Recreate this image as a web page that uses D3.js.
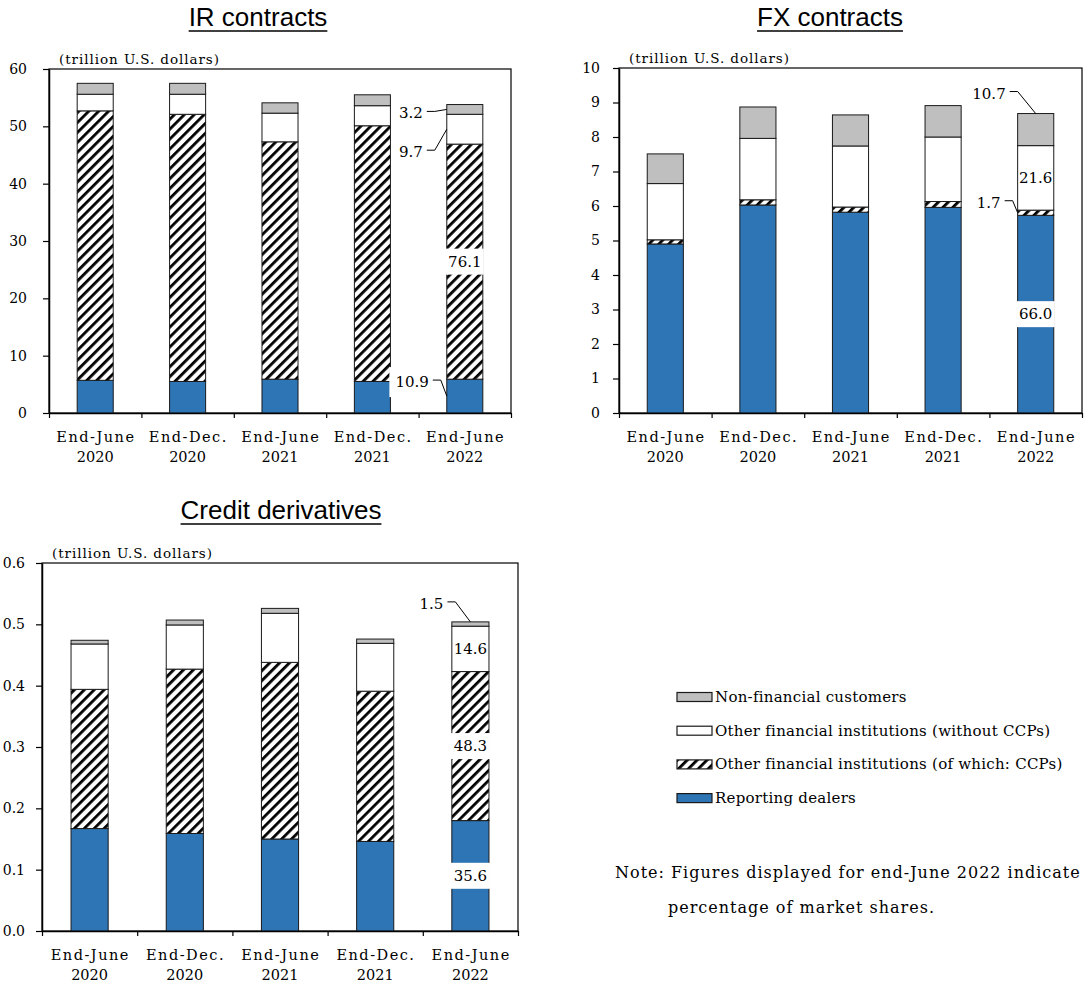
<!DOCTYPE html>
<html>
<head>
<meta charset="utf-8">
<script src="https://cdn.jsdelivr.net/npm/d3@7"></script>
<style>
  html, body { margin: 0; padding: 0; background: #fff; }
  svg { display: block; }
</style>
</head>
<body>
<script>
// ---- Categories ----
const periodLabels = ["End-June", "End-Dec.", "End-June", "End-Dec.", "End-June"];
const yearLabels = ["2020", "2020", "2021", "2021", "2022"];

// ---- Series (bottom to top) ----
const seriesKeys = ["dealers", "ccps", "otherFI", "nonFin"];
const legendLabels = [
  "Non-financial customers",
  "Other financial institutions (without CCPs)",
  "Other financial institutions (of which: CCPs)",
  "Reporting dealers"
];
const legendKeys = ["nonFin", "otherFI", "ccps", "dealers"];

// ---- IR contracts (trillion U.S. dollars) ----
const irDealers = [5.7, 5.5, 5.9, 5.5, 5.9];
const irCCPs    = [47.0, 46.6, 41.4, 44.6, 41.0];
const irOtherFI = [2.9, 3.5, 5.0, 3.5, 5.2];
const irNonFin  = [1.9, 1.9, 1.8, 1.9, 1.7];
const irShares  = [10.9, 76.1, 9.7, 3.2];   // end-June 2022 market shares, %
const irTicks   = [0, 10, 20, 30, 40, 50, 60];

// ---- FX contracts (trillion U.S. dollars) ----
const fxDealers = [4.90, 6.03, 5.82, 5.96, 5.73];
const fxCCPs    = [0.12, 0.15, 0.15, 0.17, 0.15];
const fxOtherFI = [1.63, 1.78, 1.77, 1.87, 1.87];
const fxNonFin  = [0.86, 0.91, 0.90, 0.91, 0.93];
const fxShares  = [66.0, 1.7, 21.6, 10.7];
const fxTicks   = [0, 1, 2, 3, 4, 5, 6, 7, 8, 9, 10];

// ---- Credit derivatives (trillion U.S. dollars) ----
const cdDealers = [0.167, 0.159, 0.150, 0.146, 0.180];
const cdCCPs    = [0.227, 0.268, 0.288, 0.245, 0.243];
const cdOtherFI = [0.074, 0.072, 0.080, 0.078, 0.074];
const cdNonFin  = [0.006, 0.008, 0.008, 0.007, 0.007];
const cdShares  = [35.6, 48.3, 14.6, 1.5];
const cdTicks   = [0, 0.1, 0.2, 0.3, 0.4, 0.5, 0.6];

// ---- Styling ----
const BLUE = "#2E75B6";
const GRAY = "#BFBFBF";
const SERIF = "'DejaVu Serif', 'Liberation Serif', serif";
const SANS = "'Liberation Sans', Arial, sans-serif";

const svg = d3.select("body").append("svg")
  .attr("width", 1085).attr("height", 985);

const defs = svg.append("defs");
const hatch = defs.append("pattern")
  .attr("id", "hatch")
  .attr("patternUnits", "userSpaceOnUse")
  .attr("width", 7).attr("height", 7)
  .attr("patternTransform", "rotate(45)");
hatch.append("rect").attr("width", 7).attr("height", 7).attr("fill", "#fff");
hatch.append("rect").attr("width", 2.8).attr("height", 7).attr("fill", "#000");

const fills = { dealers: BLUE, ccps: "url(#hatch)", otherFI: "#fff", nonFin: GRAY };

function drawPanel(p) {
  const n = periodLabels.length;
  const g = svg.append("g");

  const x = d3.scaleBand().domain(d3.range(n))
    .range([p.left, p.right]).paddingInner(0.61).paddingOuter(0.305);
  const y = d3.scaleLinear().domain([0, p.max]).range([p.bottom, p.top]);

  const rows = d3.range(n).map(i => {
    const r = {};
    seriesKeys.forEach((k, s) => { r[k] = p.series[s][i]; });
    return r;
  });
  const stacked = d3.stack().keys(seriesKeys)(rows);

  // Title with underline
  const title = g.append("text")
    .attr("x", p.titleX).attr("y", p.titleY)
    .attr("text-anchor", "middle")
    .attr("font-family", SANS).attr("font-size", 26)
    .attr("fill", "#000")
    .text(p.title);
  const tb = title.node().getBBox();
  g.append("line")
    .attr("x1", tb.x).attr("x2", tb.x + tb.width)
    .attr("y1", p.titleY + 5).attr("y2", p.titleY + 5)
    .attr("stroke", "#000").attr("stroke-width", 1.6);

  // Unit label
  g.append("text")
    .attr("x", p.left + 10).attr("y", p.top - 5)
    .attr("font-family", SERIF).attr("font-size", 13.5)
    .attr("textLength", 160).attr("lengthAdjust", "spacing")
    .attr("fill", "#000")
    .text("(trillion  U.S. dollars)");

  // Plot frame
  g.append("rect")
    .attr("x", p.left).attr("y", p.top)
    .attr("width", p.right - p.left).attr("height", p.bottom - p.top)
    .attr("fill", "none").attr("stroke", "#000").attr("stroke-width", 1.2);

  // Stacked bars
  g.selectAll("g.layer").data(stacked).join("g")
    .attr("class", "layer")
    .attr("fill", d => fills[d.key])
    .selectAll("rect").data(d => d).join("rect")
    .attr("x", (d, i) => x(i))
    .attr("y", d => y(d[1]))
    .attr("width", x.bandwidth())
    .attr("height", d => y(d[0]) - y(d[1]))
    .attr("stroke", "#1a1a1a").attr("stroke-width", 1);

  // Y axis
  const ya = g.append("g")
    .attr("transform", `translate(${p.left},0)`)
    .call(d3.axisLeft(y).tickValues(p.ticks).tickFormat(p.fmt)
      .tickSizeInner(6).tickSizeOuter(0).tickPadding(p.pad));
  ya.attr("font-family", SERIF).attr("font-size", 14);
  ya.selectAll("text").attr("fill", "#000");
  ya.selectAll("line").attr("stroke", "#000").attr("stroke-width", 1.2);
  ya.select(".domain").attr("stroke", "#000").attr("stroke-width", 1.5);

  // X axis with ticks at category boundaries
  const xb = d3.scaleLinear().domain([0, n]).range([p.left, p.right]);
  const xa = g.append("g")
    .attr("transform", `translate(0,${p.bottom})`)
    .call(d3.axisBottom(xb).tickValues(d3.range(n + 1)).tickFormat("")
      .tickSizeInner(5).tickSizeOuter(0));
  xa.selectAll("line").attr("stroke", "#000").attr("stroke-width", 1.2);
  xa.select(".domain").attr("stroke", "#000").attr("stroke-width", 1.5);

  // Category labels (two lines)
  const lab = g.append("g")
    .attr("font-family", SERIF).attr("font-size", 14.5)
    .attr("text-anchor", "middle").attr("fill", "#000");
  d3.range(n).forEach(i => {
    const cx = x(i) + x.bandwidth() / 2;
    lab.append("text").attr("x", cx + 0.75).attr("y", p.bottom + 29)
      .attr("letter-spacing", 1.5).text(periodLabels[i]);
    lab.append("text").attr("x", cx).attr("y", p.bottom + 49).text(yearLabels[i]);
  });

  // Market share labels on the last bar
  const last = n - 1;
  const bx = x(last), bw = x.bandwidth();
  const ann = g.append("g").attr("font-family", SERIF).attr("font-size", 15).attr("fill", "#000");
  p.notes.forEach(nt => {
    const s = seriesKeys.indexOf(nt.key);
    const seg = stacked[s][last];
    const label = d3.format(".1f")(p.shares[s]);
    if (nt.kind === "inside") {
      const cy = y((seg[0] + seg[1]) / 2);
      if (nt.box) {
        ann.append("rect")
          .attr("x", bx - 1).attr("y", cy - 13)
          .attr("width", bw + 2).attr("height", 26)
          .attr("fill", "#fff");
      }
      ann.append("text").attr("x", bx + bw / 2).attr("y", cy)
        .attr("text-anchor", "middle").attr("dominant-baseline", "central")
        .text(label);
    } else {
      const ax = nt.anchor === "top" ? bx + bw / 2 : bx;
      const ay = nt.anchor === "top" ? y(seg[1]) : y((seg[0] + seg[1]) / 2);
      const tx = ax + nt.dx, ty = ay + nt.dy;
      const t = ann.append("text").attr("x", tx).attr("y", ty)
        .attr("text-anchor", "end").attr("dominant-baseline", "central")
        .text(label);
      if (nt.box) {
        const b = t.node().getBBox();
        ann.insert("rect", "text")
          .attr("x", b.x - 6).attr("y", b.y - 6)
          .attr("width", b.width + 20).attr("height", b.height + 12)
          .attr("fill", "#fff");
      }
      ann.append("path")
        .attr("d", d3.line()([[tx + 4, ty - 2], [tx + 12, ty - 2], [ax, ay]]))
        .attr("fill", "none").attr("stroke", "#000").attr("stroke-width", 1);
    }
  });
}

drawPanel({
  title: "IR contracts", titleX: 258, titleY: 26,
  left: 49, right: 511, top: 69, bottom: 413,
  max: 60, ticks: irTicks, fmt: d3.format("d"), pad: 16,
  series: [irDealers, irCCPs, irOtherFI, irNonFin], shares: irShares,
  notes: [
    { key: "nonFin", kind: "leader", anchor: "left", dx: -24, dy: 4 },
    { key: "otherFI", kind: "leader", anchor: "left", dx: -24, dy: 23 },
    { key: "ccps", kind: "inside", box: true },
    { key: "dealers", kind: "leader", anchor: "left", dx: -18, dy: -14, box: true }
  ]
});

drawPanel({
  title: "FX contracts", titleX: 830, titleY: 26,
  left: 619, right: 1082, top: 68, bottom: 413,
  max: 10, ticks: fxTicks, fmt: d3.format("d"), pad: 13,
  series: [fxDealers, fxCCPs, fxOtherFI, fxNonFin], shares: fxShares,
  notes: [
    { key: "nonFin", kind: "leader", anchor: "top", dx: -30, dy: -20 },
    { key: "otherFI", kind: "inside" },
    { key: "ccps", kind: "leader", anchor: "left", dx: -17, dy: -10 },
    { key: "dealers", kind: "inside", box: true }
  ]
});

drawPanel({
  title: "Credit derivatives", titleX: 281, titleY: 519,
  left: 42, right: 518, top: 563, bottom: 931,
  max: 0.6, ticks: cdTicks, fmt: d3.format(".1f"), pad: 11,
  series: [cdDealers, cdCCPs, cdOtherFI, cdNonFin], shares: cdShares,
  notes: [
    { key: "nonFin", kind: "leader", anchor: "top", dx: -27, dy: -18 },
    { key: "otherFI", kind: "inside" },
    { key: "ccps", kind: "inside", box: true },
    { key: "dealers", kind: "inside", box: true }
  ]
});

// ---- Legend ----
const legend = svg.append("g").attr("font-family", SERIF).attr("font-size", 15).attr("fill", "#000");
legendKeys.forEach((k, i) => {
  const cy = 697 + i * 33.7;
  legend.append("rect")
    .attr("x", 677).attr("y", cy - 4.5).attr("width", 35).attr("height", 9)
    .attr("fill", fills[k]).attr("stroke", "#1a1a1a").attr("stroke-width", 1.2);
  legend.append("text").attr("x", 715).attr("y", cy)
    .attr("dominant-baseline", "central").attr("letter-spacing", 0.25)
    .text(legendLabels[i]);
});

// ---- Note ----
const note = svg.append("g").attr("font-family", SERIF).attr("font-size", 16)
  .attr("letter-spacing", 1.0).attr("fill", "#000");
note.append("text").attr("x", 615).attr("y", 872).attr("dominant-baseline", "central")
  .text("Note: Figures displayed for end-June 2022 indicate");
note.append("text").attr("x", 668).attr("y", 907).attr("dominant-baseline", "central")
  .text("percentage of market shares.");
</script>
</body>
</html>
